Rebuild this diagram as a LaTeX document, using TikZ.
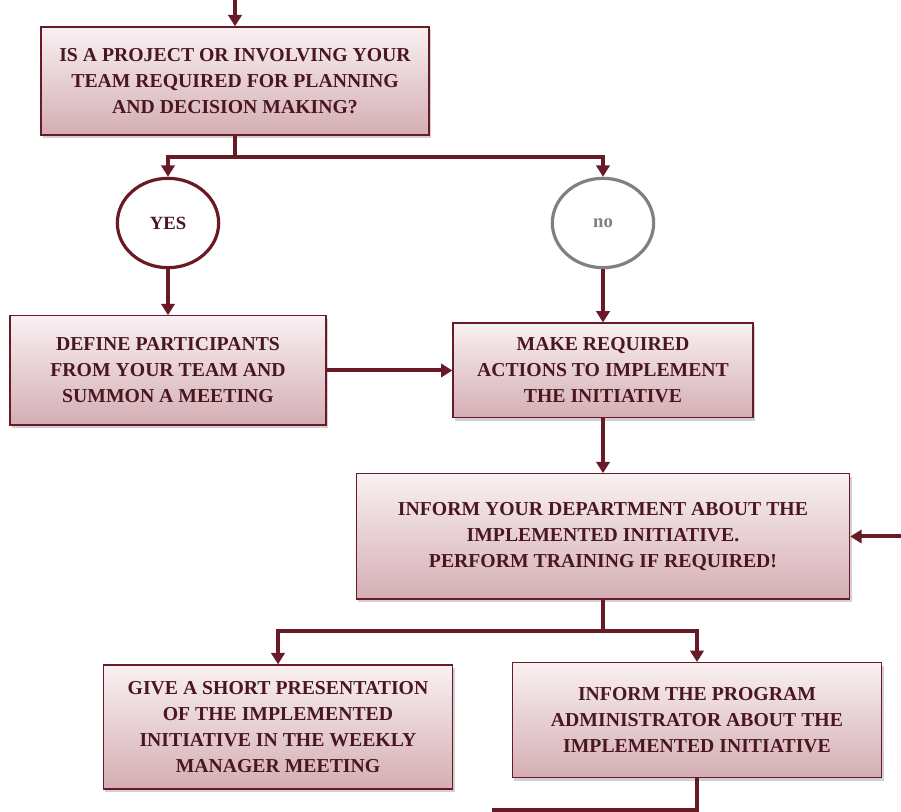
\documentclass[tikz,border=0pt]{standalone}
\usepackage{fontspec}
\setmainfont{Liberation Serif}
\usetikzlibrary{arrows.meta,shapes.geometric,shadows}
\definecolor{wine}{RGB}{104,26,38}
\definecolor{inkred}{RGB}{74,22,32}
\definecolor{boxtop}{RGB}{249,240,242}
\definecolor{boxbot}{RGB}{212,174,180}
\definecolor{nogray}{RGB}{128,128,128}
\tikzset{
  stepbox/.style={draw=wine, line width=1pt, rectangle, align=center,
    top color=boxtop, bottom color=boxbot, text=inkred,
    font=\fontsize{14.8}{19.5}\selectfont\bfseries, inner sep=0pt,
    drop shadow={shadow xshift=1.5pt, shadow yshift=-2.5pt, opacity=0.3, fill=black!60}},
  choice/.style={ellipse, draw, line width=2.4pt, fill=white, inner sep=0pt,
    minimum width=76pt, minimum height=67pt,
    font=\fontsize{14}{16}\selectfont\bfseries},
  flow/.style={draw=wine, line width=3pt, -{Triangle[length=8.5pt,width=10pt]}},
  link/.style={draw=wine, line width=3pt}
}
\begin{document}
\begin{tikzpicture}[x=0.75pt,y=-0.75pt]
\useasboundingbox (0,0) rectangle (901,812);
% decision
\node[stepbox, minimum width=291pt, minimum height=81pt] (q) at (235,81)
  {IS A PROJECT OR INVOLVING YOUR\\TEAM REQUIRED FOR PLANNING\\AND DECISION MAKING?};
\node[choice, draw=wine, text=inkred] (yes) at (168,223) {YES};
\node[choice, draw=nogray, text=nogray] (no) at (603,223) {no};
% actions
\node[stepbox, minimum width=237pt, minimum height=82pt] (def) at (168,370.5)
  {DEFINE PARTICIPANTS\\FROM YOUR TEAM AND\\SUMMON A MEETING};
\node[stepbox, minimum width=225pt, minimum height=71pt] (make) at (603,370.5)
  {MAKE REQUIRED\\ACTIONS TO IMPLEMENT\\THE INITIATIVE};
\node[stepbox, minimum width=370pt, minimum height=94pt] (inf) at (603,536.5)
  {INFORM YOUR DEPARTMENT ABOUT THE\\IMPLEMENTED INITIATIVE.\\PERFORM TRAINING IF REQUIRED!};
\node[stepbox, minimum width=262pt, minimum height=93pt] (give) at (278,727)
  {GIVE A SHORT PRESENTATION\\OF THE IMPLEMENTED\\INITIATIVE IN THE WEEKLY\\MANAGER MEETING};
\node[stepbox, minimum width=277pt, minimum height=86pt] (adm) at (697,720)
  {INFORM THE PROGRAM\\ADMINISTRATOR ABOUT THE\\IMPLEMENTED INITIATIVE};
% connector ends and junctions
\coordinate (in) at (235,0);
\coordinate (j1) at (235,157);
\coordinate (back) at (901,536.5);
\coordinate (j2) at (603,631);
\coordinate (j3) at (697,810);
\coordinate (out) at (494,830);
% connectors
\draw[flow] (in) -- (q.north);
\draw[link] (q.south) -- (j1);
\draw[flow] (j1) -| (yes.north);
\draw[flow] (j1) -| (no.north);
\draw[flow] (yes.south) -- (def.north);
\draw[flow] (no.south) -- (make.north);
\draw[flow] (def.east) -- (make.west);
\draw[flow] (make.south) -- (inf.north);
\draw[flow] (back) -- (inf.east);
\draw[link] (inf.south) -- (j2);
\draw[flow] (j2) -| (give.north);
\draw[flow] (j2) -| (adm.north);
\draw[link] (adm.south) -- (j3) -| (out);
\end{tikzpicture}
\end{document}
